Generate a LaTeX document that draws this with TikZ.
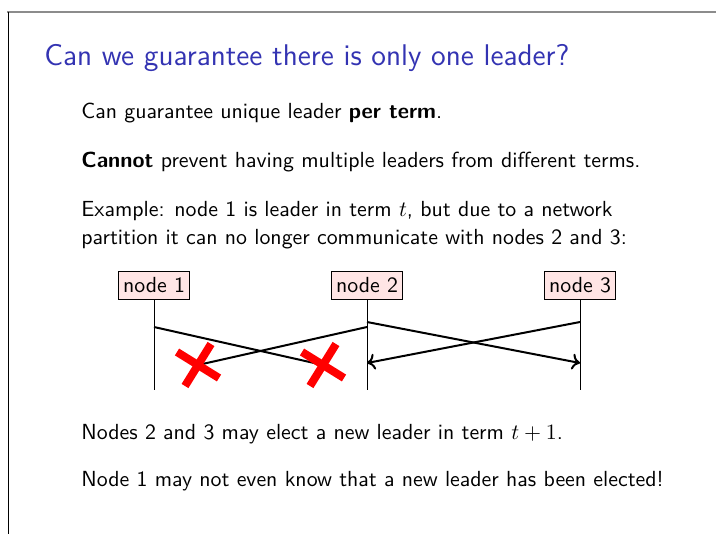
\documentclass[tikz,border=0pt]{standalone}
\usetikzlibrary{calc,arrows.meta}
\renewcommand{\familydefault}{\sfdefault}
\definecolor{titleblue}{RGB}{51,51,178}
\definecolor{boxfill}{RGB}{255,229,229}
\newlength\wbodyref
\newlength\wtitleref
\begin{document}
\settowidth\wbodyref{\fontsize{10}{12}\selectfont\sffamily\textbf{Cannot} prevent having multiple leaders from different terms.}%
\settowidth\wtitleref{\fontsize{10}{12}\selectfont\sffamily Can we guarantee there is only one leader?}%
\pgfmathsetmacro\bodysize{2795/\wbodyref}%
\pgfmathsetmacro\titlesize{2690/\wtitleref}%
\begin{tikzpicture}[x=0.5pt,y=-0.5pt,
  font=\fontsize{\bodysize}{13}\selectfont\sffamily,
  txt/.style={anchor=base west,inner sep=0pt},
  proc/.style={draw=black,fill=boxfill,line width=0.4pt,minimum height=14pt,inner xsep=2.4pt,inner ysep=0pt},
  tline/.style={line width=0.4pt},
  msg/.style={line width=1pt},
  tip/.style={-{To[length=4pt,width=8pt]}},
  xmark/.style={red,line width=4pt}]
\useasboundingbox (0,0) rectangle (716,534);
\draw[gray!90,line width=0.7pt] (7,12) -- (716,12);
\draw[line width=0.5pt] (8,12) -- (8,534);
\node[txt,text=titleblue,font=\fontsize{\titlesize}{18}\selectfont\sffamily] (title) at (44,66) {Can we guarantee there is only one leader?};
\node[txt] (p1) at (81,118.5) {Can guarantee unique leader \textbf{per term}.};
\node[txt] (p2) at (81,168) {\textbf{Cannot} prevent having multiple leaders from different terms.};
\node[txt] (p3) at (81,216) {Example: node 1 is leader in term $t$, but due to a network};
\node[txt] (p4) at (81,244) {partition it can no longer communicate with nodes 2 and 3:};
\node[txt] (p5) at (81,439) {Nodes 2 and 3 may elect a new leader in term $t+1$.};
\node[txt] (p6) at (81,486) {Node 1 may not even know that a new leader has been elected!};

\node[proc] (n1) at (154,285) {node 1};
\node[proc] (n2) at (367,285) {node 2};
\node[proc] (n3) at (580,285) {node 3};
\coordinate (e1) at (154,390);
\coordinate (e2) at (367,390);
\coordinate (e3) at (580,390);
\draw[tline] (n1.south) -- (e1);
\draw[tline] (n2.south) -- (e2);
\draw[tline] (n3.south) -- (e3);

\coordinate (a1) at (154,327);
\coordinate (a2) at (367,327);
\coordinate (x1) at (198,365);
\coordinate (x2) at (323,365);
\coordinate (b2) at (367,322);
\coordinate (b3) at (580,322);
\coordinate (c2) at (367,363);
\coordinate (c3) at (580,363);
\draw[msg] (a1) -- (x2);
\draw[msg] (a2) -- (x1);
\draw[msg,tip] (b2) -- (c3);
\draw[msg,tip] (b3) -- (c2);

\foreach \c in {x1,x2}{
  \draw[xmark] ($(\c)+(-21,-13)$) -- ($(\c)+(21,13)$);
  \draw[xmark] ($(\c)+(-13,21)$) -- ($(\c)+(13,-21)$);
}
\end{tikzpicture}
\end{document}
